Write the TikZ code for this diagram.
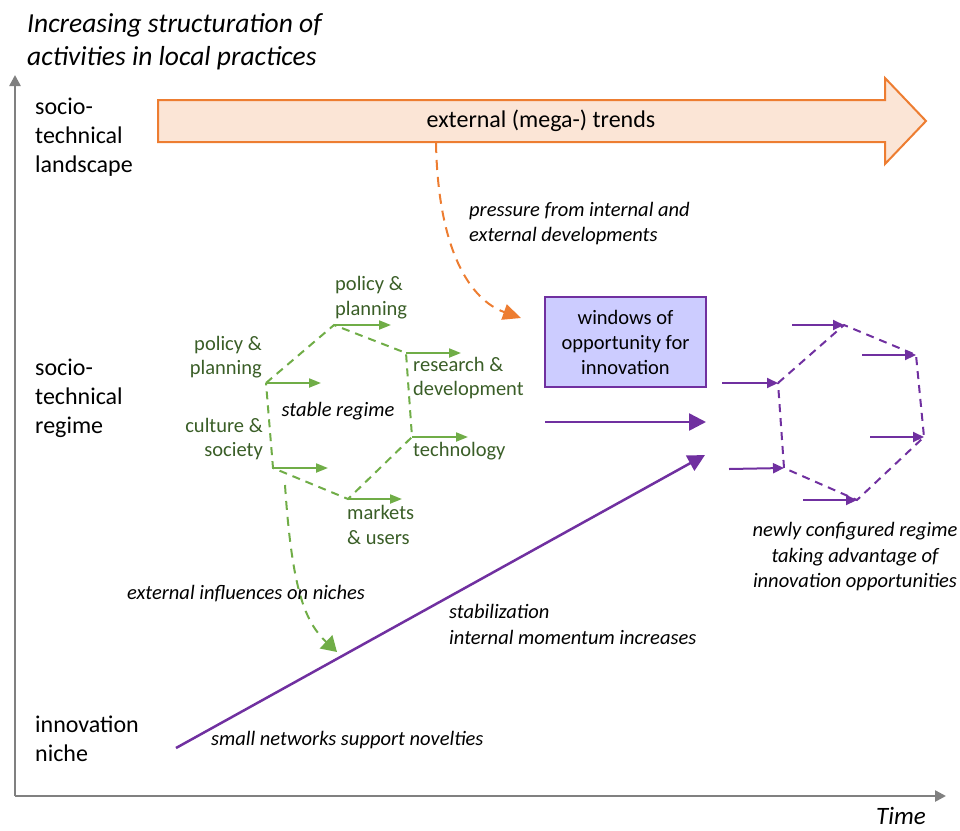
\documentclass[tikz,border=0pt]{standalone}
\usepackage{fontspec}
\setmainfont{Carlito}
\usetikzlibrary{arrows.meta}
\definecolor{trendorange}{HTML}{ED7D31}
\definecolor{trendfill}{HTML}{FBE5D6}
\definecolor{regimepurple}{HTML}{7030A0}
\definecolor{windowfill}{HTML}{CCCCFF}
\definecolor{nichegreen}{HTML}{70AD47}
\definecolor{labelgreen}{HTML}{3A5E27}
\definecolor{axisgray}{HTML}{808080}

\begin{document}
\begin{tikzpicture}[x=1pt, y=-1pt, >=Latex]
  \tikzset{
    level/.style={anchor=west, align=left, inner sep=0pt, font=\fontsize{24}{29}\selectfont},
    note/.style={inner sep=0pt, font=\fontsize{20.5}{25.5}\selectfont\itshape},
    factor/.style={inner sep=0pt, text=labelgreen, font=\fontsize{20.5}{24.5}\selectfont},
    greenpush/.style={-{Triangle[length=12pt,width=9pt]}, nichegreen, line width=2pt},
    purplepush/.style={-{Triangle[length=11pt,width=10pt]}, regimepurple, line width=2pt},
    bigpush/.style={-{Triangle[length=17pt,width=17pt]}, regimepurple, line width=2.5pt},
    greenhex/.style={nichegreen, line width=2pt, dash pattern=on 8pt off 6pt},
    purplehex/.style={regimepurple, line width=2pt, dash pattern=on 8pt off 6pt}
  }
  \useasboundingbox (0,0) rectangle (960,830);

  % axes
  \coordinate (origin) at (15,796);
  \coordinate (ytop) at (15,75);
  \coordinate (xend) at (946,796);
  \draw[axisgray, line width=2.5pt, -{Triangle[length=11pt,width=11pt]}] (origin) -- (ytop);
  \draw[axisgray, line width=2.5pt, -{Triangle[length=11pt,width=11pt]}] (origin) -- (xend);
  \node[anchor=west, align=left, inner sep=0pt, font=\fontsize{27.5}{33}\selectfont\itshape] (ytitle) at (27,41.5)
    {Increasing structuration of\\activities in local practices};
  \node[anchor=east, inner sep=0pt, font=\fontsize{25}{30}\selectfont\itshape] (xtitle) at (926,816) {Time};

  % levels
  \node[level] (landscape) at (35,137) {socio-\\technical\\landscape};
  \node[level] (regime) at (35,398) {socio-\\technical\\regime};
  \node[level] (niche) at (35,738.5) {innovation\\niche};

  % landscape trends
  \draw[trendorange, fill=trendfill, line width=2pt, line join=miter]
    (158,100) -- (885,100) -- (885,78) -- (926,121) -- (885,164) -- (885,142) -- (158,142) -- cycle;
  \node[inner sep=0pt, font=\fontsize{24}{29}\selectfont] (trends) at (541,121) {external (mega-) trends};
  \coordinate (pressfrom) at (436,143);
  \coordinate (pressto) at (521,318);
  \draw[trendorange, line width=2pt, dash pattern=on 10pt off 7pt, -{Triangle[length=18pt,width=16pt]}]
    (pressfrom) .. controls (438,250) and (470,300) .. (pressto);
  \node[note, anchor=west, align=left] (pressure) at (469,223.5)
    {pressure from internal and\\external developments};

  % window of opportunity
  \node[draw=regimepurple, fill=windowfill, line width=2pt, minimum width=161pt, minimum height=90pt,
    align=center, inner sep=0pt, font=\fontsize{20.5}{25}\selectfont] (window) at (625.5,342)
    {windows of\\opportunity for\\innovation};

  % stable regime (green hexagon)
  \coordinate (g1) at (266,383);
  \coordinate (g2) at (334,325);
  \coordinate (g3) at (406,353);
  \coordinate (g4) at (412,437);
  \coordinate (g5) at (348,499);
  \coordinate (g6) at (273,468);
  \draw[greenhex] (g1) -- (g2) -- (g3) -- (g4) -- (g5) -- (g6) -- cycle;
  \coordinate (g1to) at (321,383);
  \coordinate (g2to) at (391,325);
  \coordinate (g3to) at (461,353);
  \coordinate (g4to) at (468,437);
  \coordinate (g5to) at (402,499);
  \coordinate (g6to) at (328,468);
  \draw[greenpush] (g1) -- (g1to);
  \draw[greenpush] (g2) -- (g2to);
  \draw[greenpush] (g3) -- (g3to);
  \draw[greenpush] (g4) -- (g4to);
  \draw[greenpush] (g5) -- (g5to);
  \draw[greenpush] (g6) -- (g6to);
  \node[factor, anchor=east, align=right] (policyA) at (262,357) {policy \&\\planning};
  \node[factor, anchor=east, align=right] (culture) at (263,439) {culture \&\\society};
  \node[factor, anchor=west, align=left] (policyB) at (335,297.5) {policy \&\\planning};
  \node[factor, anchor=west, align=left] (research) at (413,378) {research \&\\development};
  \node[factor, anchor=west] (technology) at (413,451) {technology};
  \node[factor, anchor=west, align=left] (markets) at (347,525) {markets\\\& users};
  \node[note] (stable) at (338,411) {stable regime};

  % influences on niches
  \coordinate (inflfrom) at (285,485);
  \coordinate (inflto) at (337,652);
  \draw[nichegreen, line width=2pt, dash pattern=on 9pt off 7pt, -{Triangle[length=15pt,width=18pt]}]
    (inflfrom) .. controls (292,590) and (305,622) .. (inflto);
  \node[note] (influences) at (246,594) {external influences on niches};

  % niche trajectory
  \coordinate (nichestart) at (176,748);
  \coordinate (nicheend) at (705,455);
  \coordinate (regimestart) at (545,422);
  \coordinate (regimeend) at (706,422);
  \draw[bigpush] (nichestart) -- (nicheend);
  \draw[bigpush] (regimestart) -- (regimeend);
  \node[note, anchor=west, align=left] (stabilization) at (449,624.5)
    {stabilization\\internal momentum increases};
  \node[note, anchor=west] (networks) at (211,740) {small networks support novelties};

  % newly configured regime (purple hexagon)
  \coordinate (p1) at (778,383);
  \coordinate (p2) at (844,325);
  \coordinate (p3) at (916,355);
  \coordinate (p4) at (924,437);
  \coordinate (p5) at (857,500);
  \coordinate (p6) at (784,468);
  \draw[purplehex] (p1) -- (p2) -- (p3) -- (p4) -- (p5) -- (p6) -- cycle;
  \coordinate (p1from) at (722,383);
  \coordinate (p2from) at (792,325);
  \coordinate (p3from) at (862,355);
  \coordinate (p4from) at (870,437);
  \coordinate (p5from) at (803,500);
  \coordinate (p6from) at (729,469);
  \draw[purplepush] (p1from) -- (p1);
  \draw[purplepush] (p2from) -- (p2);
  \draw[purplepush] (p3from) -- (p3);
  \draw[purplepush] (p4from) -- (p4);
  \draw[purplepush] (p5from) -- (p5);
  \draw[purplepush] (p6from) -- (p6);
  \node[note, align=center] (newregime) at (855,557)
    {newly configured regime\\taking advantage of\\innovation opportunities};
\end{tikzpicture}
\end{document}
